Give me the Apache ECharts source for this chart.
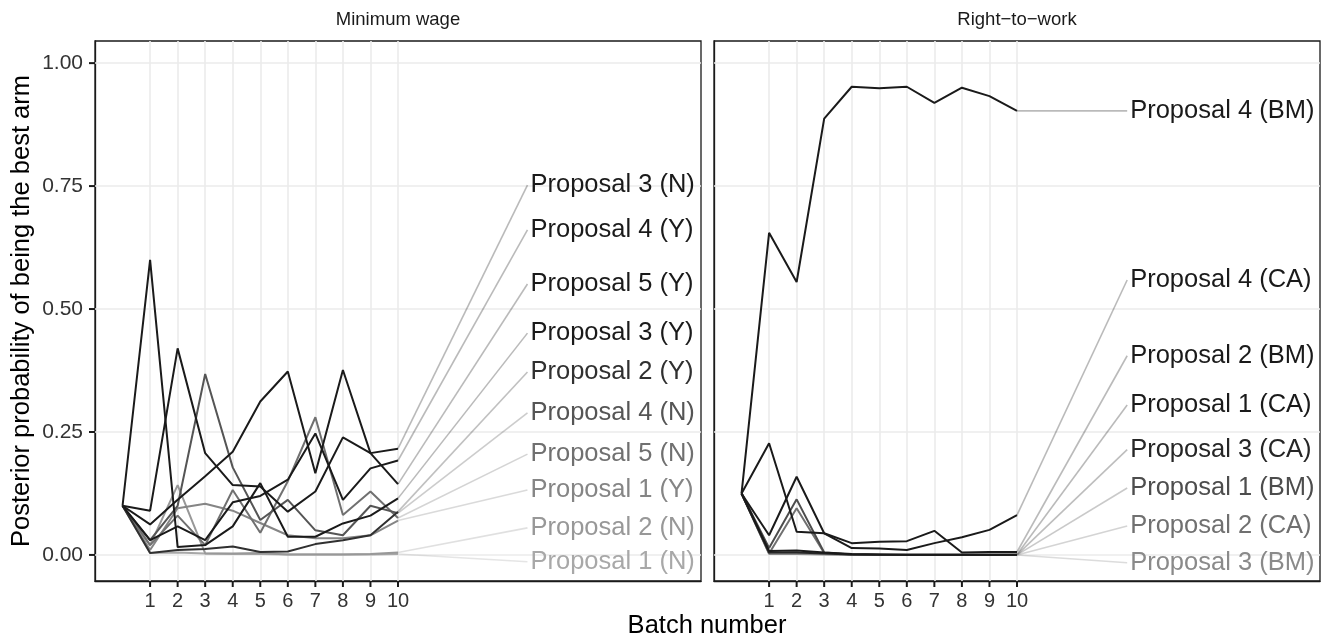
<!DOCTYPE html>
<html>
<head>
<meta charset="utf-8">
<script src="https://cdn.jsdelivr.net/npm/echarts@6/dist/echarts.min.js"></script>
<style>
  html, body { margin: 0; padding: 0; background: #ffffff; }
  #chart { width: 1322px; height: 641px; }
</style>
</head>
<body>
<div id="chart"></div>
<script>
// ---- data -------------------------------------------------------------
const batches = [0, 1, 2, 3, 4, 5, 6, 7, 8, 9, 10];
const xTicks = [1, 2, 3, 4, 5, 6, 7, 8, 9, 10];
const yTicks = [0, 0.25, 0.5, 0.75, 1];
const yTickLabels = ['0.00', '0.25', '0.50', '0.75', '1.00'];

const panelTitles = ['Minimum wage', 'Right\u2212to\u2212work'];

// Minimum wage arms
const mwNames = ['Proposal 3 (N)', 'Proposal 4 (Y)', 'Proposal 5 (Y)', 'Proposal 3 (Y)', 'Proposal 2 (Y)',
                 'Proposal 4 (N)', 'Proposal 5 (N)', 'Proposal 1 (Y)', 'Proposal 2 (N)', 'Proposal 1 (N)'];
const mwP3N = [0.1, 0.09, 0.42, 0.207, 0.142, 0.139, 0.088, 0.129, 0.239, 0.207, 0.216];
const mwP4Y = [0.1, 0.03, 0.058, 0.03, 0.107, 0.12, 0.153, 0.247, 0.112, 0.176, 0.192];
const mwP5Y = [0.1, 0.062, 0.112, 0.16, 0.21, 0.312, 0.373, 0.166, 0.376, 0.207, 0.144];
const mwP3Y = [0.1, 0.6, 0.016, 0.02, 0.058, 0.146, 0.037, 0.037, 0.064, 0.08, 0.115];
const mwP2Y = [0.1, 0.004, 0.01, 0.012, 0.017, 0.006, 0.007, 0.022, 0.03, 0.04, 0.088];
const mwP4N = [0.1, 0.03, 0.1, 0.368, 0.178, 0.071, 0.112, 0.05, 0.04, 0.1, 0.085];
const mwP5N = [0.1, 0.02, 0.08, 0.02, 0.132, 0.045, 0.15, 0.28, 0.081, 0.129, 0.075];
const mwP1Y = [0.1, 0.01, 0.095, 0.104, 0.09, 0.065, 0.04, 0.034, 0.034, 0.04, 0.07];
const mwP2N = [0.1, 0.02, 0.142, 0.003, 0.003, 0.004, 0.001, 0.001, 0.001, 0.002, 0.005];
const mwP1N = [0.1, 0.004, 0.005, 0.003, 0.002, 0.002, 0.001, 0.001, 0.001, 0.001, 0.002];
const mwValues = [mwP3N, mwP4Y, mwP5Y, mwP3Y, mwP2Y, mwP4N, mwP5N, mwP1Y, mwP2N, mwP1N];

// Right-to-work arms
const rtwNames = ['Proposal 4 (BM)', 'Proposal 4 (CA)', 'Proposal 2 (BM)', 'Proposal 1 (CA)',
                  'Proposal 3 (CA)', 'Proposal 1 (BM)', 'Proposal 2 (CA)', 'Proposal 3 (BM)'];
const rtwP4BM = [0.125, 0.655, 0.555, 0.887, 0.952, 0.949, 0.952, 0.919, 0.95, 0.933, 0.903];
const rtwP4CA = [0.125, 0.04, 0.159, 0.044, 0.014, 0.013, 0.01, 0.024, 0.036, 0.051, 0.081];
const rtwP2BM = [0.125, 0.227, 0.047, 0.044, 0.024, 0.027, 0.028, 0.049, 0.005, 0.006, 0.006];
const rtwP1CA = [0.125, 0.008, 0.009, 0.005, 0.002, 0.001, 0.001, 0.001, 0.001, 0.001, 0.001];
const rtwP3CA = [0.125, 0.005, 0.005, 0.003, 0.001, 0.001, 0, 0, 0, 0, 0];
const rtwP1BM = [0.125, 0.014, 0.113, 0.005, 0.001, 0, 0, 0, 0, 0, 0];
const rtwP2CA = [0.125, 0.003, 0.095, 0.004, 0.001, 0, 0, 0, 0, 0, 0];
const rtwP3BM = [0.125, 0.002, 0.002, 0.001, 0, 0, 0, 0, 0, 0, 0];
const rtwValues = [rtwP4BM, rtwP4CA, rtwP2BM, rtwP1CA, rtwP3CA, rtwP1BM, rtwP2CA, rtwP3BM];

// ---- layout & style -----------------------------------------------------
// repelled label slots (x in batch units, y in probability units)
const mwLabelX = 14.7;
const mwLabelY = [0.752, 0.661, 0.551, 0.451, 0.372, 0.289, 0.205, 0.132, 0.055, -0.014];
const rtwLabelX = 14.0;
const rtwLabelY = [0.903, 0.559, 0.405, 0.305, 0.214, 0.136, 0.059, -0.016];

const mwColors = ['#1a1a1a', '#1a1a1a', '#1a1a1a', '#1a1a1a', '#303030',
                  '#555555', '#707070', '#858585', '#989898', '#a8a8a8'];
const rtwColors = ['#1a1a1a', '#1a1a1a', '#1a1a1a', '#1a1a1a', '#262626',
                   '#4d4d4d', '#707070', '#8a8a8a'];

const FONT = 'Liberation Sans, Arial, Helvetica, sans-serif';
const X_MIN = -1, X_MAX = 21;
const Y_MIN = -0.053, Y_MAX = 1.045;
const TICK_LEN = 6;

function hexAlpha(hex, a) {
  const n = parseInt(hex.slice(1), 16);
  return 'rgba(' + ((n >> 16) & 255) + ',' + ((n >> 8) & 255) + ',' + (n & 255) + ',' + a + ')';
}

const chart = echarts.init(document.getElementById('chart'), null, { renderer: 'canvas' });

const grids = [
  { left: 95, top: 41, width: 606, height: 540 },
  { left: 714, top: 41, width: 606, height: 540 }
].map(g => Object.assign(g, { show: true, borderColor: '#1a1a1a', borderWidth: 1.3, backgroundColor: 'transparent' }));

const xAxes = [0, 1].map(i => ({
  type: 'value', gridIndex: i, min: X_MIN, max: X_MAX, position: 'bottom',
  axisLine: { show: true, onZero: false, lineStyle: { color: '#1a1a1a', width: 1.3 } },
  splitLine: { show: false },
  axisTick: { show: false },
  axisLabel: { customValues: xTicks, fontSize: 20, color: '#333333', fontFamily: FONT, margin: 10 }
}));

const yAxes = [0, 1].map(i => ({
  type: 'value', gridIndex: i, min: Y_MIN, max: Y_MAX, position: 'left',
  axisLine: { show: true, onZero: false, lineStyle: { color: '#1a1a1a', width: 1.3 } },
  splitLine: { show: false },
  axisTick: { show: false },
  axisLabel: {
    show: i === 0, customValues: yTicks, fontSize: 21, color: '#333333', fontFamily: FONT, margin: 12,
    formatter: v => {
      const j = yTicks.indexOf(v);
      return j >= 0 ? yTickLabels[j] : '';
    }
  }
}));

const series = [];

// panel gridlines
[0, 1].forEach(i => {
  series.push({
    type: 'line', xAxisIndex: i, yAxisIndex: i, data: [], z: 1, silent: true,
    markLine: {
      silent: true, symbol: 'none', animation: false, z: 1,
      label: { show: false },
      lineStyle: { color: '#ebebeb', width: 1.6, type: 'solid' },
      data: xTicks.map(v => ({ xAxis: v })).concat(yTicks.map(v => ({ yAxis: v })))
    }
  });
});

function addPanel(idx, names, values, colors, labelX, labelYs) {
  // connectors and labels, then the trajectories
  names.forEach((name, k) => {
    const vals = values[k];
    const last = vals[vals.length - 1];
    series.push({
      type: 'line', xAxisIndex: idx, yAxisIndex: idx, z: 2, silent: true,
      symbol: 'none',
      lineStyle: { color: hexAlpha(colors[k], 0.3), width: 1.6 },
      data: [[batches[batches.length - 1], last], [labelX, labelYs[k]]]
    });
    series.push({
      type: 'scatter', xAxisIndex: idx, yAxisIndex: idx, z: 4, silent: true,
      symbolSize: 0,
      itemStyle: { opacity: 1 },
      data: [{ value: [labelX, labelYs[k]], name: name }],
      label: {
        show: true, position: 'right', distance: 3, formatter: '{b}', opacity: 1,
        fontSize: 25.5, color: colors[k], fontFamily: FONT
      }
    });
  });
  for (let k = names.length - 1; k >= 0; k--) {
    series.push({
      type: 'line', xAxisIndex: idx, yAxisIndex: idx, z: 3, silent: true,
      name: names[k], symbol: 'none',
      lineStyle: { color: colors[k], width: 2 },
      data: batches.map((b, j) => [b, values[k][j]])
    });
  }
}

addPanel(0, mwNames, mwValues, mwColors, mwLabelX, mwLabelY);
addPanel(1, rtwNames, rtwValues, rtwColors, rtwLabelX, rtwLabelY);

const titleGraphics = [
  { type: 'text', x: 398, y: 20, style: { text: panelTitles[0], fontSize: 18.5, fill: '#1a1a1a', fontFamily: FONT, textAlign: 'center', textVerticalAlign: 'middle' } },
  { type: 'text', x: 1017, y: 20, style: { text: panelTitles[1], fontSize: 18.5, fill: '#1a1a1a', fontFamily: FONT, textAlign: 'center', textVerticalAlign: 'middle' } },
  { type: 'text', x: 707, y: 626, style: { text: 'Batch number', fontSize: 25.5, fill: '#000000', fontFamily: FONT, textAlign: 'center', textVerticalAlign: 'middle' } },
  { type: 'text', x: 22, y: 311, rotation: Math.PI / 2, style: { text: 'Posterior probability of being the best arm', fontSize: 25.5, fill: '#000000', fontFamily: FONT, textAlign: 'center', textVerticalAlign: 'middle' } }
];

chart.setOption({
  animation: false,
  backgroundColor: '#ffffff',
  grid: grids,
  xAxis: xAxes,
  yAxis: yAxes,
  series: series,
  graphic: titleGraphics
});

// outward tick marks, placed through each panel's axis scales
const tickStyle = { stroke: '#1a1a1a', lineWidth: 2 };
const tickGraphics = [];
[0, 1].forEach(g => {
  xTicks.forEach(v => {
    const p = chart.convertToPixel({ gridIndex: g }, [v, Y_MIN]);
    tickGraphics.push({ type: 'line', silent: true, z: 10,
      shape: { x1: p[0], y1: p[1], x2: p[0], y2: p[1] + TICK_LEN }, style: tickStyle });
  });
});
yTicks.forEach(v => {
  const p = chart.convertToPixel({ gridIndex: 0 }, [X_MIN, v]);
  tickGraphics.push({ type: 'line', silent: true, z: 10,
    shape: { x1: p[0], y1: p[1], x2: p[0] - TICK_LEN, y2: p[1] }, style: tickStyle });
});
chart.setOption({ graphic: titleGraphics.concat(tickGraphics) });
</script>
</body>
</html>
